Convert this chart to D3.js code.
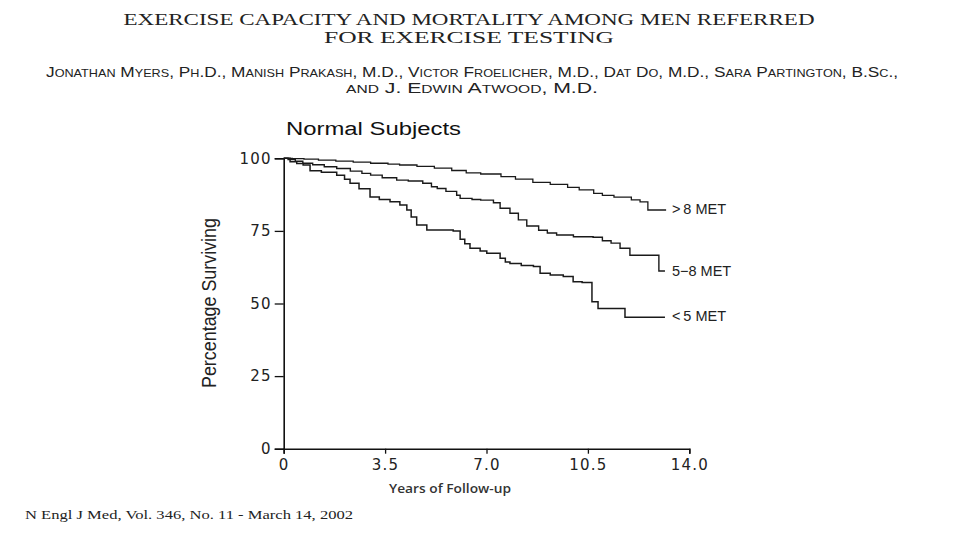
<!DOCTYPE html>
<html>
<head>
<meta charset="utf-8">
<script src="https://cdn.jsdelivr.net/npm/d3@7/dist/d3.min.js"></script>
<style>
  html, body { margin: 0; padding: 0; background: #fff; }
  svg { display: block; }
</style>
</head>
<body>
<script>
// ---- Data ----
const seriesNames = [">\u20098 MET", "5\u22128 MET", "<\u20095 MET"];

const metAbove8 = [
  [0,100],[0.3,99.9],[0.7,99.7],[1.2,99.4],[1.8,99.0],[2.4,98.7],[3.0,98.3],[3.6,98.0],
  [4.0,97.7],[4.6,97.2],[5.2,96.6],[5.8,95.8],[6.3,95.0],[6.8,94.6],[7.5,93.7],[8.0,92.8],
  [8.6,91.7],[9.2,91.0],[9.8,90.0],[10.2,89.1],[10.7,87.9],[11.0,87.2],[11.4,86.6],
  [12.0,85.7],[12.3,85.0],[12.57,82.2],[13.2,82.2]
];

const met5to8 = [
  [0,100],[0.15,99.6],[0.4,99.0],[0.66,98.3],[1.0,97.8],[1.4,97.1],[1.83,96.5],[2.3,95.6],
  [2.7,94.8],[3.0,94.2],[3.4,93.3],[3.9,92.5],[4.3,92.2],[4.8,91.4],[5.1,90.2],[5.3,89.6],
  [5.6,88.6],[5.97,87.3],[6.09,86.2],[6.5,85.8],[6.8,85.6],[7.24,84.7],[7.47,82.8],
  [7.81,81.1],[8.1,78.8],[8.39,76.7],[8.8,75.2],[9.1,74.3],[9.42,73.6],[10.0,73.0],
  [10.68,72.8],[11.0,71.6],[11.3,70.8],[11.61,69.0],[11.95,66.6],[12.95,61.2],[13.16,61.2]
];

const metBelow5 = [
  [0,100],[0.22,98.8],[0.45,98.2],[0.67,97.7],[0.91,95.7],[1.3,95.2],[1.83,94.2],[2.1,92.8],
  [2.29,91.4],[2.6,89.5],[2.98,86.7],[3.3,85.8],[3.67,85.0],[4.01,83.9],[4.25,82.2],
  [4.4,79.8],[4.59,77.0],[4.94,75.3],[5.85,75.0],[6.09,72.1],[6.25,70.6],[6.43,69.0],
  [6.78,68.1],[7.01,67.3],[7.47,65.6],[7.65,64.3],[7.81,63.8],[8.2,63.1],[8.62,62.7],
  [8.85,60.4],[9.2,59.8],[9.65,59.3],[9.99,57.5],[10.3,57.2],[10.64,50.6],[10.85,48.3],
  [11.78,45.3],[13.16,45.3]
];

const xTickLabels = ["0", "3.5", "7.0", "10.5", "14.0"];
const xTickValues = [0, 3.5, 7, 10.5, 14];
const xMinorTicks = d3.range(0, 14.01, 0.7);
const yTickValues = [0, 25, 50, 75, 100];
const yMinorTicks = d3.range(0, 100.1, 5);

const titleLines = ["EXERCISE CAPACITY AND MORTALITY AMONG MEN REFERRED", "FOR EXERCISE TESTING"];
const authorLines = ["Jonathan Myers, Ph.D., Manish Prakash, M.D., Victor Froelicher, M.D., Dat Do, M.D., Sara Partington, B.Sc.,",
                     "and J. Edwin Atwood, M.D."];
const panelTitle = "Normal Subjects";
const yAxisTitle = "Percentage Surviving";
const xAxisTitle = "Years of Follow-up";
const citation = "N Engl J Med, Vol. 346, No. 11  -  March 14, 2002";

// ---- Layout ----
const W = 960, H = 540;
const svg = d3.select("body").append("svg").attr("width", W).attr("height", H);

const x = d3.scaleLinear().domain([0, 14]).range([283.7, 689.3]);
const y = d3.scaleLinear().domain([0, 100]).range([448.7, 158.3]);

// Header
const titleY = [25, 43];
const titleLen = [691, 290];
titleLines.forEach((t, i) => {
  svg.append("text").attr("x", 469).attr("y", titleY[i])
    .attr("text-anchor", "middle")
    .attr("font-family", "'Liberation Serif', 'DejaVu Serif', serif")
    .attr("font-size", 17).attr("fill", "#222")
    .attr("textLength", titleLen[i]).attr("lengthAdjust", "spacingAndGlyphs")
    .text(t);
});
const authY = [77, 93];
const authLen = [852, 252];
authorLines.forEach((t, i) => {
  svg.append("text").attr("x", 472).attr("y", authY[i])
    .attr("text-anchor", "middle")
    .attr("font-family", "'Liberation Sans', Arial, sans-serif")
    .attr("font-size", 15).attr("fill", "#222")
    .style("font-variant", "small-caps")
    .attr("textLength", authLen[i]).attr("lengthAdjust", "spacingAndGlyphs")
    .text(t);
});

svg.append("text").attr("x", 286).attr("y", 135)
  .attr("font-family", "'Liberation Sans', Arial, sans-serif")
  .attr("font-size", 18).attr("fill", "#111")
  .attr("textLength", 175).attr("lengthAdjust", "spacingAndGlyphs")
  .text(panelTitle);

// Axes
const axisFont = "'DejaVu Sans', 'Liberation Sans', sans-serif";

const gy = svg.append("g").attr("transform", `translate(${x(0)},0)`);
gy.call(d3.axisLeft(y).tickValues(yMinorTicks).tickSize(5).tickFormat(""));
gy.call(d3.axisLeft(y).tickValues(yTickValues).tickSize(9).tickPadding(3).tickFormat(d => String(d)));
gy.selectAll(".domain").attr("stroke", "#111").attr("stroke-width", 1.6);
gy.selectAll(".tick line").attr("stroke", "#111").attr("stroke-width", 1.3);
gy.selectAll(".tick text").attr("font-family", axisFont).attr("font-size", 15)
  .attr("fill", "#222").attr("letter-spacing", 1.2);

const gx = svg.append("g").attr("transform", `translate(0,${y(0)})`);
gx.call(d3.axisBottom(x).tickValues(xMinorTicks).tickSize(5).tickFormat(""));
gx.call(d3.axisBottom(x).tickValues(xTickValues).tickSize(5).tickPadding(6)
  .tickFormat((d, i) => xTickLabels[i]));
gx.selectAll(".domain").attr("stroke", "#111").attr("stroke-width", 1.6);
gx.selectAll(".tick line").attr("stroke", "#111").attr("stroke-width", 1.3);
gx.selectAll(".tick text").attr("font-family", axisFont).attr("font-size", 15)
  .attr("fill", "#222").attr("letter-spacing", 1.2);

// Axis titles
svg.append("text")
  .attr("transform", `translate(216,303) rotate(-90)`)
  .attr("text-anchor", "middle")
  .attr("font-family", "'Liberation Sans Narrow', 'Liberation Sans', Arial, sans-serif")
  .attr("font-size", 21).attr("fill", "#222")
  .attr("textLength", 170).attr("lengthAdjust", "spacingAndGlyphs")
  .text(yAxisTitle);

svg.append("text").attr("x", 450).attr("y", 493)
  .attr("text-anchor", "middle")
  .attr("font-family", "'Open Sans', 'Noto Sans', sans-serif")
  .attr("font-weight", 600)
  .attr("font-size", 12.5).attr("fill", "#333")
  .attr("textLength", 122).attr("lengthAdjust", "spacingAndGlyphs")
  .text(xAxisTitle);

svg.append("text").attr("x", 25).attr("y", 519)
  .attr("font-family", "'Liberation Serif', 'DejaVu Serif', serif")
  .attr("font-size", 13).attr("fill", "#222")
  .attr("textLength", 328).attr("lengthAdjust", "spacingAndGlyphs")
  .text(citation);

// Curves
const line = d3.line().x(d => x(d[0])).y(d => y(d[1])).curve(d3.curveStepAfter);
const allSeries = [metAbove8, met5to8, metBelow5];
const widths = [1.3, 1.4, 1.5];
allSeries.forEach((s, i) => {
  svg.append("path").datum(s).attr("d", line)
    .attr("fill", "none").attr("stroke", "#1a1a1a").attr("stroke-width", widths[i]);
});

// Curve labels
const labelY = [209, 271, 316];
allSeries.forEach((s, i) => {
  svg.append("text").attr("x", 672).attr("y", labelY[i])
    .attr("dy", "0.35em")
    .attr("font-family", "'Liberation Sans', Arial, sans-serif")
    .attr("font-size", 14.5).attr("fill", "#222")
    .text(seriesNames[i]);
});
</script>
</body>
</html>
